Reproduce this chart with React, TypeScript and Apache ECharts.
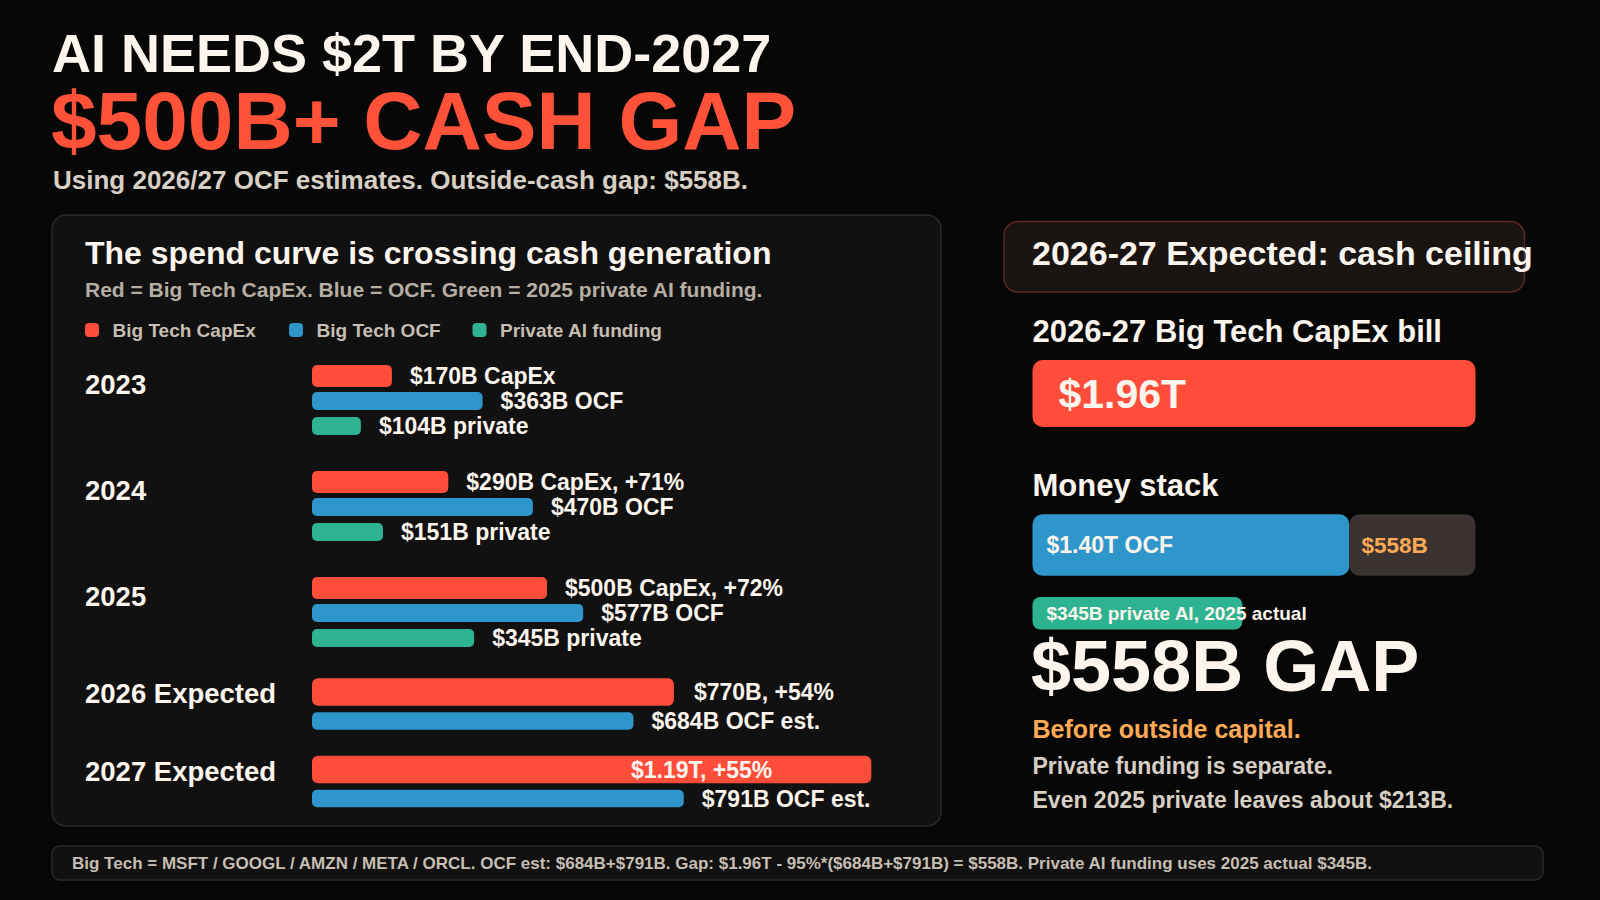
import React, { useEffect, useRef } from 'react';
import * as echarts from 'echarts';

// ---------------- data ----------------
const years = ['2023', '2024', '2025', '2026 Expected', '2027 Expected'];
const capexB = [170, 290, 500, 770, 1190];
const ocfB = [363, 470, 577, 684, 791];
const privateB: (number | null)[] = [104, 151, 345, null, null];
const capexLabels = ['$170B CapEx', '$290B CapEx, +71%', '$500B CapEx, +72%', '$770B, +54%', '$1.19T, +55%'];
const ocfLabels = ['$363B OCF', '$470B OCF', '$577B OCF', '$684B OCF est.', '$791B OCF est.'];
const privateLabels = ['$104B private', '$151B private', '$345B private', '', ''];
const legendNames = ['Big Tech CapEx', 'Big Tech OCF', 'Private AI funding'];

const capexBill2627 = [1960];
const moneyStackOCF = [1402];
const moneyStackGap = [558];
const privateActual2025 = [345];

// ---------------- style ----------------
const FONT = '"Liberation Sans", Arial, Helvetica, sans-serif';
const BG = '#070707';
const RED = '#FF4D3A';
const RED_TITLE = '#FF5238';
const BLUE = '#2E96CB';
const GREEN = '#2EB390';
const CREAM = '#FBF5EE';
const BEIGE = '#D8CFC4';
const GRAY = '#C6BDB3';
const SUBGRAY = '#B6ADA3';
const ORANGE = '#FFAA55';
const GAPBOX = '#3A3331';

const BAR_LEFT = 312;
const BAR_W = 611;
const BAR_MAX = 1300;
const yearGrid = [
  { top: 363.5, height: 75 },
  { top: 469.5, height: 75 },
  { top: 575.5, height: 75 },
  { top: 677.5, height: 58 },
  { top: 755, height: 58 },
];
const yearLabelY = [384.5, 490, 596.5, 693.5, 771.5];

const txt = (text: string, x: number, y: number, size: number, fill: string, align = 'left') => ({
  type: 'text',
  x,
  y,
  z: 10,
  silent: true,
  style: {
    text,
    fill,
    fontSize: size,
    fontWeight: 'bold',
    fontFamily: FONT,
    align,
    verticalAlign: 'middle',
  },
});

function buildOption() {
  const grids: any[] = [];
  const xAxes: any[] = [];
  const yAxes: any[] = [];
  const series: any[] = [];
  const rowColors = [RED, BLUE, GREEN];
  const rowLabels = [capexLabels, ocfLabels, privateLabels];

  years.forEach((_, i) => {
    const big = i >= 3;
    const rows = [capexB[i], ocfB[i], privateB[i]];
    const data = rows
      .map((v, r) => (v == null ? null : [v, r]))
      .filter((d) => d !== null);
    grids.push({ left: BAR_LEFT, top: yearGrid[i].top, width: BAR_W, height: yearGrid[i].height });
    xAxes.push({ type: 'value', gridIndex: i, min: 0, max: BAR_MAX, show: false });
    yAxes.push({
      type: 'category',
      gridIndex: i,
      data: big ? ['capex', 'ocf'] : ['capex', 'ocf', 'private'],
      inverse: true,
      show: false,
    });
    series.push({
      type: 'custom',
      xAxisIndex: i,
      yAxisIndex: i,
      encode: { x: 0, y: 1 },
      clip: false,
      silent: true,
      data,
      renderItem: (params: any, api: any) => {
        const v = api.value(0) as number;
        const r = api.value(1) as number;
        const s = api.coord([0, r]);
        const e = api.coord([v, r]);
        const h = big ? (r === 0 ? 27.5 : 17.5) : r === 0 ? 22 : 18;
        const label = rowLabels[r][i];
        const inside = v / BAR_MAX > 0.85;
        const gap = big && r === 0 ? 20 : 18;
        return {
          type: 'group',
          children: [
            {
              type: 'rect',
              shape: { x: s[0], y: e[1] - h / 2, width: e[0] - s[0], height: h, r: big && r === 0 ? 6 : 5 },
              style: { fill: rowColors[r] },
            },
            {
              type: 'text',
              x: inside ? e[0] - 99 : e[0] + gap,
              y: e[1],
              style: {
                text: label,
                fill: CREAM,
                fontSize: 23,
                fontWeight: 'bold',
                fontFamily: FONT,
                align: inside ? 'right' : 'left',
                verticalAlign: 'middle',
              },
            },
          ],
        };
      },
    });
  });

  // right: capex bill
  const gBill = grids.length;
  grids.push({ left: 1032.5, top: 360, width: 443, height: 67 });
  xAxes.push({ type: 'value', gridIndex: gBill, min: 0, max: 1960, show: false });
  yAxes.push({ type: 'category', gridIndex: gBill, data: ['bill'], show: false });
  series.push({
    type: 'bar',
    xAxisIndex: gBill,
    yAxisIndex: gBill,
    data: capexBill2627,
    barWidth: 67,
    silent: true,
    itemStyle: { color: RED, borderRadius: 10 },
    label: {
      show: true,
      position: 'insideLeft',
      distance: 26,
      formatter: (p: any) => `$${(p.value / 1000).toFixed(2)}T`,
      color: CREAM,
      fontSize: 41,
      fontWeight: 'bold',
      fontFamily: FONT,
    },
  });

  // right: money stack
  const gStack = grids.length;
  grids.push({ left: 1032.5, top: 514.3, width: 443, height: 61.4 });
  xAxes.push({ type: 'value', gridIndex: gStack, min: 0, max: 1960, show: false });
  yAxes.push({ type: 'category', gridIndex: gStack, data: ['stack'], show: false });
  series.push({
    type: 'bar',
    name: 'OCF',
    stack: 'money',
    xAxisIndex: gStack,
    yAxisIndex: gStack,
    data: moneyStackOCF,
    barWidth: 61.4,
    silent: true,
    itemStyle: { color: BLUE, borderRadius: 10 },
    label: {
      show: true,
      position: 'insideLeft',
      distance: 14,
      formatter: (p: any) => `$${(p.value / 1000).toFixed(2)}T OCF`,
      color: CREAM,
      fontSize: 23,
      fontWeight: 'bold',
      fontFamily: FONT,
    },
  });
  series.push({
    type: 'bar',
    name: 'Gap',
    stack: 'money',
    xAxisIndex: gStack,
    yAxisIndex: gStack,
    data: moneyStackGap,
    barWidth: 61.4,
    silent: true,
    itemStyle: { color: GAPBOX, borderRadius: 10 },
    label: {
      show: true,
      position: 'insideLeft',
      distance: 12,
      formatter: (p: any) => `$${p.value}B`,
      color: ORANGE,
      fontSize: 22.5,
      fontWeight: 'bold',
      fontFamily: FONT,
    },
  });

  // right: private AI pill
  const gPriv = grids.length;
  grids.push({ left: 1032.5, top: 597, width: 443, height: 32.6 });
  xAxes.push({ type: 'value', gridIndex: gPriv, min: 0, max: 728, show: false });
  yAxes.push({ type: 'category', gridIndex: gPriv, data: ['private'], show: false });
  series.push({
    type: 'bar',
    xAxisIndex: gPriv,
    yAxisIndex: gPriv,
    data: privateActual2025,
    barWidth: 32.6,
    silent: true,
    itemStyle: { color: GREEN, borderRadius: 8 },
    label: {
      show: true,
      position: 'insideLeft',
      distance: 14,
      formatter: (p: any) => `$${p.value}B private AI, 2025 actual`,
      color: CREAM,
      fontSize: 19,
      fontWeight: 'bold',
      fontFamily: FONT,
    },
  });

  const legendX = [85, 289, 472.5];
  const legendColors = [RED, BLUE, GREEN];

  const elements: any[] = [
    // panels
    {
      type: 'rect',
      z: 0,
      silent: true,
      shape: { x: 52, y: 215, width: 889, height: 611, r: 14 },
      style: { fill: '#111111', stroke: '#2C2826', lineWidth: 1.5 },
    },
    {
      type: 'rect',
      z: 0,
      silent: true,
      shape: { x: 1004, y: 221.5, width: 520.5, height: 70.5, r: 14 },
      style: { fill: '#1A1412', stroke: '#5A2A21', lineWidth: 1.5 },
    },
    {
      type: 'rect',
      z: 0,
      silent: true,
      shape: { x: 52, y: 846, width: 1491, height: 34, r: 8 },
      style: { fill: '#111111', stroke: '#2E2826', lineWidth: 1.5 },
    },
    // headline
    txt('AI NEEDS $2T BY END-2027', 52, 52.5, 54, CREAM),
    txt('$500B+ CASH GAP', 51, 120, 82, RED_TITLE),
    txt('Using 2026/27 OCF estimates. Outside-cash gap: $558B.', 53, 180, 26, BEIGE),
    // left panel header
    txt('The spend curve is crossing cash generation', 85, 252.5, 32, CREAM),
    txt('Red = Big Tech CapEx. Blue = OCF. Green = 2025 private AI funding.', 85, 289, 21, SUBGRAY),
    // right
    txt('2026-27 Expected: cash ceiling', 1032, 253, 34, CREAM),
    txt('2026-27 Big Tech CapEx bill', 1032.5, 331.5, 31, CREAM),
    txt('Money stack', 1032.5, 485, 31, CREAM),
    txt(`$${moneyStackGap[0]}B GAP`, 1031, 666, 72, CREAM),
    txt('Before outside capital.', 1032.5, 728.5, 25, ORANGE),
    txt('Private funding is separate.', 1032.5, 765.5, 23, BEIGE),
    txt('Even 2025 private leaves about $213B.', 1032.5, 800, 23, BEIGE),
    // footer
    txt(
      'Big Tech = MSFT / GOOGL / AMZN / META / ORCL. OCF est: $684B+$791B. Gap: $1.96T - 95%*($684B+$791B) = $558B. Private AI funding uses 2025 actual $345B.',
      72,
      863,
      17,
      GRAY
    ),
  ];

  legendNames.forEach((n, k) => {
    elements.push({
      type: 'rect',
      z: 5,
      silent: true,
      shape: { x: legendX[k], y: 323, width: 14, height: 14, r: 4 },
      style: { fill: legendColors[k] },
    });
    elements.push(txt(n, legendX[k] + 27.5, 330, 19, GRAY));
  });

  years.forEach((y, i) => {
    elements.push(txt(y, 85, yearLabelY[i], 27.5, CREAM));
  });

  return {
    animation: false,
    backgroundColor: BG,
    grid: grids,
    xAxis: xAxes,
    yAxis: yAxes,
    series,
    graphic: { elements },
  };
}

export default function App() {
  const ref = useRef<HTMLDivElement>(null);
  useEffect(() => {
    document.body.style.margin = '0';
    document.body.style.background = BG;
    const chart = echarts.init(ref.current as HTMLDivElement, null, { renderer: 'svg' });
    chart.setOption(buildOption() as any);
    return () => chart.dispose();
  }, []);
  return <div ref={ref} style={{ width: 1600, height: 900, background: BG }} />;
}
